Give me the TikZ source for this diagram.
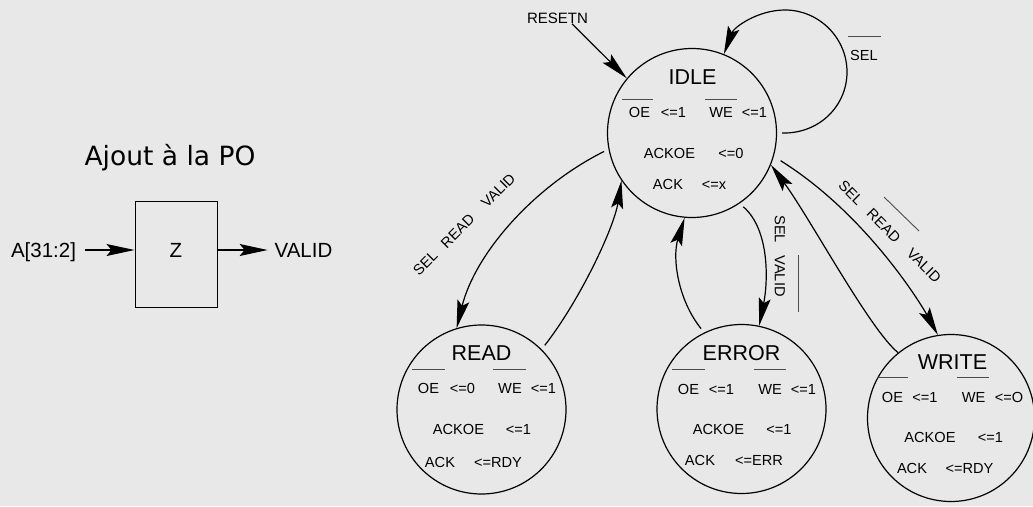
\documentclass[tikz,border=0pt]{standalone}
\usepackage{fontspec}
\setmainfont{Liberation Sans}
\newfontfamily\dejavu{DejaVu Sans}
\usetikzlibrary{arrows.meta}
\definecolor{bg}{HTML}{E8E8E8}
\begin{document}
\begin{tikzpicture}[x=1pt,y=-1pt,
  txt/.style={inner sep=0pt,outer sep=0pt,text depth=0pt},
  sm/.style={txt,font=\fontsize{14.6}{17}\selectfont,text height=10.45pt},
  ttl/.style={txt,font=\fontsize{21.5}{24}\selectfont,text height=15.4pt},
  io/.style={txt,font=\fontsize{20.5}{23}\selectfont,text height=14.7pt},
  state/.style={draw,circle,line width=1.2pt,minimum size=169pt,inner sep=0pt},
  ovl/.style={line width=0.9pt,draw=black!70},
  arr/.style={line width=1.2pt,-{Stealth[length=28pt,width=12pt,inset=5pt]}},
  gap/.style={shorten <=5pt}]
\useasboundingbox (0,0) rectangle (1033,506);
\fill[bg] (0,0) rectangle (1033,506);

\newcommand\tx[4]{\node[sm] (#1) at (#2,#3) {#4};}

% ---- left part: the added block
\node[txt,font=\dejavu\fontsize{26.5}{30}\selectfont,text height=19.3pt] (po) at (170,156) {Ajout à la PO};
\node[draw,line width=1pt,minimum width=82pt,minimum height=106pt,inner sep=0pt] (zbox) at (176,254) {};
\node[io] (zt) at (176,250) {Z};
\node[io] (ain) at (43.5,250) {A[31:2]};
\node[io] (vout) at (303.5,250) {VALID};
\draw[arr] ([xshift=9pt]ain.east) -- (zbox.west |- ain);
\draw[arr] (zbox.east |- vout) -- ([xshift=-7pt]vout.west);

% ---- states
\node[state] (IDLE) at (692,133) {};
\node[state] (READ) at (481.5,409.5) {};
\node[state] (ERROR) at (741.5,409) {};
\node[state,minimum size=167pt] (WRITE) at (951,418) {};

% IDLE
\node[ttl] (t1) at (692.5,77) {IDLE};
\draw[ovl] (622,99) -- (653,99);
\draw[ovl] (705,99) -- (737,99);
\tx{i1}{639.5}{112}{OE}
\tx{i2}{673.5}{112}{<=1}
\tx{i3}{721}{112}{WE}
\tx{i4}{754.5}{112}{<=1}
\tx{i5}{669.5}{153}{ACKOE}
\tx{i6}{731}{153}{<=0}
\tx{i7}{668}{184}{ACK}
\tx{i8}{714}{184}{<=x}

% READ
\node[ttl] (t2) at (481.5,353) {READ};
\draw[ovl] (412,369) -- (445,369);
\draw[ovl] (493,369) -- (526,369);
\tx{r1}{428.5}{388}{OE}
\tx{r2}{462.5}{388}{<=0}
\tx{r3}{510}{388}{WE}
\tx{r4}{543.5}{388}{<=1}
\tx{r5}{458.5}{429}{ACKOE}
\tx{r6}{518.5}{429}{<=1}
\tx{r7}{440}{462}{ACK}
\tx{r8}{498}{462}{<=RDY}

% ERROR
\node[ttl] (t3) at (741.5,353) {ERROR};
\draw[ovl] (672,369) -- (705,369);
\draw[ovl] (754,369) -- (786,369);
\tx{e1}{688.5}{389}{OE}
\tx{e2}{721.5}{389}{<=1}
\tx{e3}{770}{389}{WE}
\tx{e4}{803.5}{389}{<=1}
\tx{e5}{718.5}{429}{ACKOE}
\tx{e6}{779}{429}{<=1}
\tx{e7}{700}{460}{ACK}
\tx{e8}{759}{460}{<=ERR}

% WRITE
\node[ttl] (t4) at (952.5,362) {WRITE};
\draw[ovl] (877,377) -- (908,377);
\draw[ovl] (957,377) -- (989,377);
\tx{w1}{892.5}{397}{OE}
\tx{w2}{925}{397}{<=1}
\tx{w3}{973.5}{397}{WE}
\tx{w4}{1009}{397}{<=O}
\tx{w5}{930}{437}{ACKOE}
\tx{w6}{990.5}{437}{<=1}
\tx{w7}{912}{468}{ACK}
\tx{w8}{969.5}{468}{<=RDY}

% ---- reset
\node[sm,font=\fontsize{15}{17}\selectfont,text height=10.7pt] (rst) at (557.5,18.5) {RESETN};
\draw[arr] ([xshift=14.5pt]rst.south) -- (IDLE.140);

% ---- self loop on IDLE
\draw[arr] ([xshift=5pt]IDLE.east) .. controls (819,134) and (847,106) .. (847,72)
  .. controls (847,38) and (819,10) .. (785,10)
  .. controls (758,10) and (734,27) .. (IDLE.68);
\tx{l1}{864}{55}{SEL}
\draw[ovl] (848,36) -- (881,36);

% ---- IDLE <-> READ
\draw[arr,gap] (IDLE.191) .. controls (533,187) and (475,254) .. (READ.107);
\draw[arr,gap] (READ.45) .. controls (580,300) and (614,228) .. (IDLE.214);
\node[sm,rotate=45] (l2) at (464,224.5) {SEL\hspace{11.5pt}READ\hspace{16.5pt}VALID};

% ---- IDLE <-> ERROR
\draw[arr,gap] (IDLE.304) .. controls (770,230) and (768,282) .. (ERROR.78.5);
\draw[arr,gap] (ERROR.116.6) .. controls (678,300) and (672,258) .. (IDLE.265);
\node[sm,rotate=-90] (l3) at (780,256) {SEL\hspace{12.5pt}VALID};
\draw[ovl] (798,255) -- (798,312);

% ---- IDLE <-> WRITE
\draw[arr,shorten <=8pt] (IDLE.344.6) .. controls (866,214) and (921,304) .. (WRITE.99);
\draw[arr] (WRITE.129.7) .. controls (870,330) and (810,218) .. (IDLE.338.4);
\node[sm,rotate=-45] (l4) at (890,231.5) {SEL\hspace{12.5pt}READ\hspace{16pt}VALID};
\draw[ovl] (884,197) -- (919,231);
\end{tikzpicture}
\end{document}
